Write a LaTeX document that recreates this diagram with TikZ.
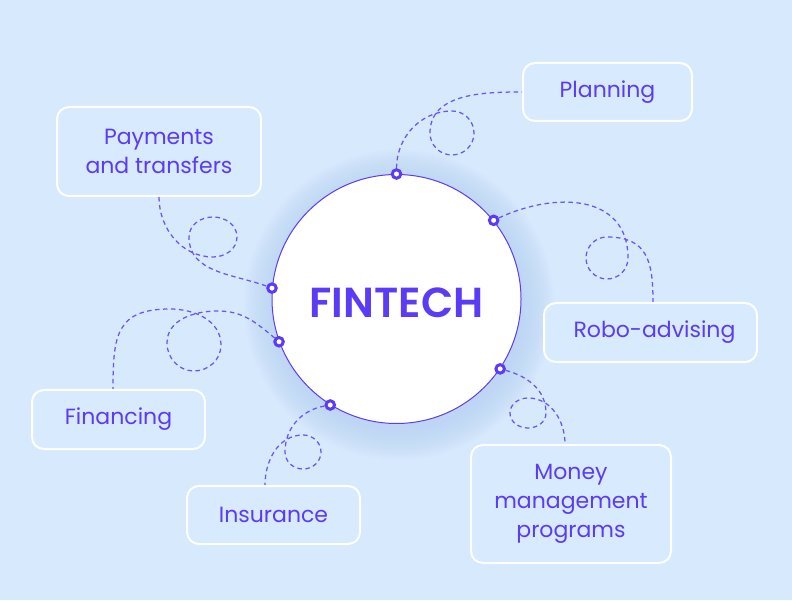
\documentclass[tikz,border=0pt]{standalone}
\usepackage{fontspec}
\setmainfont{Poppins}
\newfontfamily\titlefont{Poppins SemiBold}
\definecolor{bg}{HTML}{D6E9FD}
\definecolor{boxfill}{HTML}{D8EAFE}
\definecolor{vio}{HTML}{5B3BF5}
\definecolor{glow}{HTML}{B3CFF5}
\tikzset{
  lbox/.style={rectangle, rounded corners=12pt, draw=white, line width=2pt, fill=boxfill,
    text=vio, font=\fontsize{22}{29}\selectfont, align=center, inner sep=0pt},
  ring/.style={circle, draw=vio, line width=3pt, fill=white, minimum size=8.5pt, inner sep=0pt},
  conn/.style={draw=vio, draw opacity=0.85, line width=1.25pt, dash pattern=on 4.5pt off 3.5pt},
  halo/.style={fill=glow, fill opacity=0.05},
}
\begin{document}
\begin{tikzpicture}[x=1pt,y=1pt]
\fill[bg] (0,0) rectangle (792,600);
\useasboundingbox (0,0) rectangle (792,600);
\foreach \r in {125,127,...,155} {\fill[halo] (399,295) circle (\r);}
\node[circle, draw=vio, line width=1pt, fill=white, minimum size=249pt, inner sep=0pt] (fin) at (396.5,301) {};
\node[text=vio, font=\titlefont\fontsize{42}{48}\selectfont, inner sep=0pt] (title) at (396.5,297.5) {FINTECH};

\node[lbox, minimum width=169pt, minimum height=58pt] (plan) at (607.5,508) {Planning};
\node[lbox, minimum width=204pt, minimum height=89pt] (pay) at (159,448.5) {Payments\\and transfers};
\node[lbox, minimum width=213pt, minimum height=59pt] (robo) at (650.5,267.5) {\hspace*{8pt}Robo-advising};
\node[lbox, minimum width=173pt, minimum height=59pt] (finc) at (118.5,180.5) {Financing};
\node[lbox, minimum width=173pt, minimum height=58pt] (ins) at (273.5,85) {Insurance};
\node[lbox, minimum width=200pt, minimum height=118pt] (mon) at (571,96) {Money\\management\\programs};

\node[ring] (d1) at (fin.90) {};
\node[ring] (d2) at (fin.39) {};
\node[ring] (d3) at (fin.175) {};
\node[ring] (d4) at (fin.200) {};
\node[ring] (d5) at (fin.-34) {};
\node[ring] (d6) at (fin.238) {};

% Planning
\draw[conn] (d1) to[out=90,in=180] (452,489) to[out=0,in=90] (474,467) to[out=-90,in=0] (452,445)
  to[out=180,in=-90] (430,467) to[out=90,in=180] (plan);
% Payments
\draw[conn] (pay) to[out=-90,in=180] (213,343) to[out=0,in=-90] (237,363) to[out=90,in=0] (213,383)
  to[out=180,in=90] (189,363) to[out=-90,in=160] (d3);
% Robo-advising
\draw[conn] (d2) to[out=25,in=90,looseness=1.2] (628,342) to[out=-90,in=0] (607,321) to[out=180,in=-90] (586,342)
  to[out=90,in=180] (607,363) to[out=0,in=90,looseness=1.3] ([xshift=2.5pt]robo.north);
% Financing
\draw[conn] (d4) to[out=140,in=0] (218,289) to[out=180,in=90] (167,257) to[out=-90,in=180] (194,229)
  to[out=0,in=-90] (221,255) to[out=90,in=0] (170,291) to[out=180,in=90,looseness=1.4] ([xshift=-5.5pt]finc.north);
% Insurance
\draw[conn] (d6) to[out=190,in=90] (285,148) to[out=-90,in=180] (303,131) to[out=0,in=-90] (321,148)
  to[out=90,in=0] (303,165) to[out=180,in=90] ([xshift=-8.5pt]ins.north);
% Money management
\draw[conn] (d5) to[out=-15,in=90] (546,187) to[out=-90,in=0] (528,172) to[out=180,in=-90] (510,187)
  to[out=90,in=180] (528,202) to[out=0,in=90] ([xshift=-6pt]mon.north);
\end{tikzpicture}
\end{document}
